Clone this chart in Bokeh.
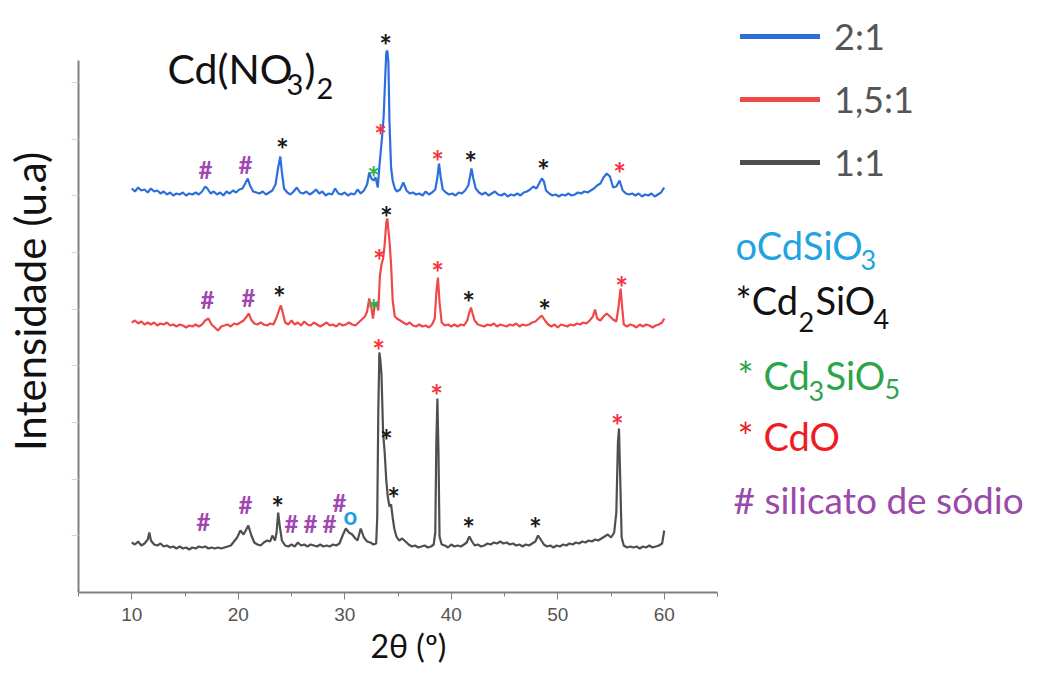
import math
from bokeh.plotting import figure
from bokeh.models import ColumnDataSource, Label, Legend, LegendItem, FixedTicker, Range1d, Title
from bokeh.core.properties import value
from bokeh.embed import file_html
from bokeh.resources import INLINE

# ---------------- data (2theta in degrees, intensity in a.u. incl. vertical stacking) ----------------
series_labels = ["2:1", "1,5:1", "1:1"]

pts_2_1 = [(10.0,404),(10.3,401),(10.6,405),(10.9,402),(11.2,403),(11.5,400),(11.8,404),(12.1,401),(12.4,402),(12.7,399),
    (13.0,401),(13.3,398),(13.6,400),(13.9,397),(14.2,399),(14.5,398),(14.8,400),(15.1,397),(15.4,399),(15.7,398),
    (16.0,400),(16.3,398),(16.6,401),(16.9,406),(17.1,404),(17.4,399),(17.7,401),(18.0,398),(18.3,400),(18.6,397),
    (18.9,401),(19.2,399),(19.5,402),(19.8,400),(20.1,403),(20.4,404),(20.7,410),(20.9,414),(21.1,407),(21.4,401),
    (21.7,400),(22.0,399),(22.3,401),(22.6,398),(22.9,400),(23.2,402),(23.5,408),(23.75,425),(23.95,436),(24.1,420),
    (24.3,404),(24.6,400),(24.9,398),(25.2,401),(25.5,405),(25.8,400),(26.1,399),(26.4,401),(26.7,398),(27.0,400),
    (27.3,403),(27.6,399),(27.9,401),(28.2,397),(28.5,399),(28.8,398),(29.1,404),(29.4,399),(29.7,398),(30.0,400),
    (30.3,397),(30.6,399),(30.9,398),(31.2,403),(31.5,399),(31.8,402),(32.1,408),(32.3,420),(32.5,414),(32.7,412),
    (32.9,415),(33.1,405),(33.3,432),(33.5,455),(33.65,475),(33.8,515),(33.9,540),(34.0,542),(34.1,530),(34.2,470),
    (34.35,425),(34.5,412),(34.7,404),(34.9,401),(35.2,403),(35.5,410),(35.8,402),(36.1,399),(36.4,400),(36.7,398),
    (37.0,399),(37.3,397),(37.6,401),(37.9,398),(38.2,400),(38.5,403),(38.7,415),(38.85,429),(39.0,416),(39.2,403),
    (39.5,400),(39.8,398),(40.1,399),(40.4,397),(40.7,400),(41.0,399),(41.3,402),(41.6,407),(41.8,418),(41.9,424),
    (42.05,415),(42.3,404),(42.6,400),(42.9,398),(43.2,400),(43.5,397),(43.8,399),(44.1,401),(44.4,398),(44.7,397),
    (45.0,399),(45.3,396),(45.6,398),(45.9,397),(46.2,399),(46.5,397),(46.8,400),(47.1,401),(47.4,403),(47.7,406),
    (48.0,404),(48.3,410),(48.5,414),(48.7,411),(48.9,402),(49.2,399),(49.5,397),(49.8,398),(50.1,396),(50.4,398),
    (50.7,397),(51.0,399),(51.3,397),(51.6,398),(51.9,400),(52.2,399),(52.5,401),(52.8,400),(53.1,402),(53.4,404),
    (53.7,407),(54.0,409),(54.3,415),(54.6,419),(54.9,416),(55.2,405),(55.5,406),(55.8,412),(56.1,402),(56.4,399),
    (56.7,398),(57.0,399),(57.3,397),(57.6,399),(57.9,396),(58.2,398),(58.5,397),(58.8,399),(59.1,396),(59.4,398),
    (59.7,400),(60.0,405)]

pts_1_5_1 = [(10.0,270),(10.3,272),(10.6,269),(10.9,271),(11.2,268),(11.5,270),(11.8,268),(12.1,270),(12.4,267),(12.7,269),
    (13.0,268),(13.3,270),(13.6,267),(13.9,268),(14.2,266),(14.5,268),(14.8,267),(15.1,265),(15.4,267),(15.7,266),
    (16.0,268),(16.3,266),(16.6,268),(16.9,272),(17.2,274),(17.5,268),(17.8,265),(18.1,262),(18.4,266),(18.7,267),
    (19.0,268),(19.3,266),(19.6,269),(19.9,268),(20.2,270),(20.5,272),(20.8,276),(21.0,279),(21.2,273),(21.5,269),
    (21.8,268),(22.1,270),(22.4,268),(22.7,267),(23.0,269),(23.3,268),(23.6,275),(23.85,283),(24.0,287),(24.2,279),
    (24.4,270),(24.7,268),(25.0,272),(25.3,268),(25.6,270),(25.9,267),(26.2,271),(26.5,268),(26.8,267),(27.1,270),
    (27.4,268),(27.7,266),(28.0,268),(28.3,270),(28.6,267),(28.9,268),(29.2,266),(29.5,269),(29.8,267),(30.1,268),
    (30.4,270),(30.7,268),(31.0,267),(31.3,270),(31.6,273),(31.9,276),(32.1,281),(32.3,294),(32.5,285),(32.65,274),
    (32.85,290),(33.0,288),(33.15,282),(33.3,316),(33.45,328),(33.6,334),(33.75,348),(33.9,370),(34.0,374),(34.1,362),
    (34.2,352),(34.35,328),(34.5,292),(34.7,276),(34.9,274),(35.2,272),(35.5,270),(35.8,268),(36.1,270),(36.4,267),
    (36.7,266),(37.0,268),(37.3,266),(37.6,267),(37.9,265),(38.2,268),(38.45,274),(38.6,300),(38.75,315),(38.9,290),
    (39.1,270),(39.4,267),(39.7,268),(40.0,266),(40.3,268),(40.6,266),(40.9,268),(41.2,267),(41.5,272),(41.7,280),
    (41.85,285),(42.0,279),(42.2,272),(42.5,268),(42.8,267),(43.1,266),(43.4,268),(43.7,267),(44.0,269),(44.3,266),
    (44.6,268),(44.9,267),(45.2,266),(45.5,268),(45.8,267),(46.1,269),(46.4,266),(46.7,268),(47.0,267),(47.3,268),
    (47.6,270),(47.9,271),(48.2,274),(48.5,277),(48.8,272),(49.1,268),(49.4,266),(49.7,268),(50.0,265),(50.3,268),
    (50.6,267),(50.9,266),(51.2,268),(51.5,267),(51.8,269),(52.1,268),(52.4,270),(52.7,269),(53.0,272),(53.3,276),
    (53.5,283),(53.7,274),(54.0,272),(54.3,276),(54.6,279),(54.9,276),(55.2,273),(55.5,271),(55.7,285),(55.9,304),
    (56.05,285),(56.2,268),(56.5,266),(56.8,268),(57.1,267),(57.4,265),(57.7,268),(58.0,266),(58.3,268),(58.6,267),
    (58.9,265),(59.2,267),(59.5,268),(59.8,270),(60.0,274)]

pts_1_1 = [(10.0,50),(10.3,48),(10.6,51),(10.9,47),(11.2,49),(11.5,53),(11.65,60),(11.8,52),(12.1,48),(12.4,47),
    (12.7,49),(13.0,46),(13.3,47),(13.6,45),(13.9,46),(14.2,44),(14.5,46),(14.8,44),(15.1,45),(15.4,43),
    (15.7,45),(16.0,44),(16.3,46),(16.6,45),(16.9,46),(17.2,44),(17.5,45),(17.8,44),(18.1,45),(18.4,44),
    (18.7,45),(19.0,46),(19.3,47),(19.6,51),(19.9,55),(20.2,62),(20.5,58),(20.75,63),(20.95,67),(21.2,58),
    (21.5,50),(21.8,48),(22.1,47),(22.4,50),(22.7,52),(23.0,51),(23.2,57),(23.45,52),(23.6,60),(23.75,80),
    (23.9,66),(24.1,52),(24.4,47),(24.7,46),(25.0,48),(25.3,46),(25.6,50),(25.9,47),(26.2,48),(26.5,46),
    (26.8,48),(27.1,47),(27.4,46),(27.7,48),(28.0,46),(28.3,47),(28.6,46),(28.9,48),(29.2,47),(29.5,49),
    (29.8,57),(30.1,64),(30.4,60),(30.7,58),(31.0,54),(31.2,52),(31.5,64),(31.8,55),(32.1,51),(32.4,50),
    (32.7,48),(32.95,49),(33.05,75),(33.15,180),(33.25,240),(33.35,232),(33.45,218),(33.6,160),(33.75,140),(33.9,112),
    (34.05,95),(34.2,86),(34.35,88),(34.5,75),(34.65,64),(34.85,56),(35.1,52),(35.4,54),(35.7,51),(36.0,48),
    (36.3,46),(36.6,47),(36.9,45),(37.2,46),(37.5,47),(37.8,45),(38.1,46),(38.35,48),(38.5,60),(38.6,150),
    (38.7,194),(38.8,140),(38.9,56),(39.1,48),(39.4,47),(39.7,45),(40.0,48),(40.3,46),(40.6,47),(40.9,46),
    (41.2,48),(41.45,50),(41.7,56),(41.95,51),(42.2,47),(42.5,48),(42.8,46),(43.1,47),(43.4,49),(43.7,48),
    (44.0,50),(44.3,49),(44.6,51),(44.9,49),(45.2,50),(45.5,48),(45.8,49),(46.1,47),(46.4,48),(46.7,46),
    (47.0,48),(47.3,47),(47.6,49),(47.9,51),(48.15,57),(48.4,53),(48.7,48),(49.0,46),(49.3,47),(49.6,45),
    (49.9,47),(50.2,46),(50.5,48),(50.8,47),(51.1,49),(51.4,48),(51.7,50),(52.0,49),(52.3,51),(52.6,50),
    (52.9,52),(53.2,51),(53.5,53),(53.8,52),(54.1,54),(54.4,56),(54.7,58),(55.0,55),(55.3,60),(55.5,80),
    (55.65,150),(55.75,164),(55.85,120),(56.0,55),(56.2,47),(56.5,45),(56.8,46),(57.1,45),(57.4,46),(57.7,44),
    (58.0,46),(58.3,45),(58.6,47),(58.9,45),(59.2,46),(59.5,47),(59.8,49),(60.0,62)]

# phase markers: 2theta, intensity, phase
mark_theta = [16.92, 20.68, 24.15, 32.70, 33.36, 33.83, 38.71, 41.81, 48.66, 55.80,
              17.11, 20.96, 23.87, 32.70, 33.26, 33.92, 38.71, 41.62, 48.76, 55.99,
              16.74, 20.68, 23.69, 25.00, 26.78, 28.57, 29.51, 30.54, 33.17, 33.92, 34.58, 38.62, 41.62, 47.91, 55.61]
mark_int = [422, 427, 450, 422, 464, 554, 438, 437, 429, 426,
            292, 294, 302, 289, 339, 382, 327, 297, 289, 312,
            70, 87, 92, 68, 68, 68, 89, 75, 249, 159, 101, 204, 71, 71, 174]
mark_phase = ["Na", "Na", "Cd2SiO4", "Cd3SiO5", "CdO", "Cd2SiO4", "CdO", "Cd2SiO4", "Cd2SiO4", "CdO",
              "Na", "Na", "Cd2SiO4", "Cd3SiO5", "CdO", "Cd2SiO4", "CdO", "Cd2SiO4", "Cd2SiO4", "CdO",
              "Na", "Na", "Cd2SiO4", "Na", "Na", "Na", "Na", "CdSiO3", "CdO", "Cd2SiO4", "Cd2SiO4", "CdO",
              "Cd2SiO4", "Cd2SiO4", "CdO"]

# ---------------- styles ----------------
line_colors = ["#2c6fdc", "#f04848", "#4f4f4f"]
phase_symbol = {"Na": "#", "Cd2SiO4": "*", "Cd3SiO5": "*", "CdO": "*", "CdSiO3": "o"}
phase_color = {"Na": "#a048b0", "Cd2SiO4": "#1a1a1a", "Cd3SiO5": "#2fb050", "CdO": "#f5333f", "CdSiO3": "#1aa0e0"}
sym_size = {"#": "24px", "*": "30px", "o": "24px"}
sym_off = {"#": -1, "*": 6, "o": -2}
FONT = "Lato"

W, H = 1044, 669
LEFT, TOP, BOTTOM, RIGHT = 78, 10, 77, 0
PX_PER_DEG = 10.65
x_end = 5 + (W - LEFT - RIGHT) / PX_PER_DEG
y_end = H - BOTTOM - TOP

p = figure(width=W, height=H, x_range=Range1d(5, x_end), y_range=Range1d(0, y_end),
           output_backend="svg", toolbar_location=None,
           min_border_left=LEFT, min_border_right=RIGHT, min_border_top=TOP, min_border_bottom=BOTTOM)
p.outline_line_color = None
p.xgrid.visible = False
p.ygrid.visible = False
p.background_fill_color = "white"
p.border_fill_color = "white"

# axes
p.xaxis.ticker = FixedTicker(ticks=[10, 20, 30, 40, 50, 60], minor_ticks=[5, 15, 25, 35, 45, 55, 65])
p.xaxis.bounds = (5, 65)
p.xaxis.axis_line_color = "#808080"
p.xaxis.axis_line_width = 2
p.xaxis.major_tick_line_color = "#808080"
p.xaxis.minor_tick_line_color = "#808080"
p.xaxis.major_tick_out = 7
p.xaxis.major_tick_in = 0
p.xaxis.minor_tick_out = 4
p.xaxis.minor_tick_in = 0
p.xaxis.major_label_text_font = "Liberation Sans"
p.xaxis.major_label_text_font_size = "19px"
p.xaxis.major_label_text_color = "#555555"
p.xaxis.major_label_standoff = 8

p.yaxis.ticker = FixedTicker(ticks=[], minor_ticks=[56.7, 113.3, 170, 226.7, 283.3, 340, 396.7, 453.3, 510])
p.yaxis.bounds = (0, 532)
p.yaxis.axis_line_color = "#808080"
p.yaxis.axis_line_width = 2
p.yaxis.minor_tick_line_color = "#d4d4d4"
p.yaxis.minor_tick_out = 7
p.yaxis.minor_tick_in = 0
p.yaxis.axis_label = "Intensidade (u.a)"
p.yaxis.axis_label_text_font = FONT
p.yaxis.axis_label_text_font_size = "42px"
p.yaxis.axis_label_text_font_style = "normal"
p.yaxis.axis_label_text_color = "#111111"
p.yaxis.axis_label_standoff = 17

# x axis title below the axis, starting near 2theta = 32.5
xt = Title(text="2θ (º)", align="left", offset=292, text_font=FONT, text_font_size="32px",
           text_font_style="normal", text_color="#111111", standoff=0)
p.add_layout(xt, "below")

# curves
curves = []
for pts, col in zip([pts_2_1, pts_1_5_1, pts_1_1], line_colors):
    xs = [a for a, b in pts]
    ys = [b for a, b in pts]
    p.line(xs, ys, line_color=col, line_width=2.2)
    # hidden twin with a thicker stroke, used only for the legend swatch
    curves.append(p.line(xs, ys, line_color=col, line_width=5, line_cap="round", visible=False))

legend = Legend(items=[LegendItem(label=l, renderers=[r]) for l, r in zip(series_labels, curves)],
                location=(662, 408), orientation="vertical")
legend.label_text_font = FONT
legend.label_text_font_size = "36px"
legend.label_text_color = "#555555"
legend.glyph_width = 80
legend.glyph_height = 42
legend.label_height = 42
legend.spacing = 19
legend.label_standoff = 14
legend.padding = 0
legend.margin = 0
legend.border_line_color = None
legend.background_fill_alpha = 0
legend.inactive_fill_alpha = 0
legend.click_policy = "none"
p.add_layout(legend)

# phase markers
src = ColumnDataSource(dict(
    x=mark_theta, y=mark_int,
    t=[phase_symbol[k] for k in mark_phase],
    c=[phase_color[k] for k in mark_phase],
    s=[sym_size[phase_symbol[k]] for k in mark_phase],
    o=[sym_off[phase_symbol[k]] for k in mark_phase],
))
p.text(x="x", y="y", text="t", text_color="c", text_font_size="s", y_offset="o",
       text_font=value(FONT), text_font_style="bold", text_align="center",
       text_baseline="alphabetic", source=src)

# ---------------- free text (pixel placement converted to data units) ----------------
def dx(xp):
    return 5 + (xp - LEFT) / PX_PER_DEG

def dy(yp):
    return (H - BOTTOM) - yp

def lab(text, xp, yp, size, color):
    # yp: wanted baseline (px from top); renderer draws about 0.43 em lower
    p.add_layout(Label(x=dx(xp), y=dy(yp - 0.43 * size), text=text, text_font=FONT,
                       text_font_size=f"{size}px", text_color=color,
                       text_align="left", text_baseline="alphabetic"))

# title Cd(NO3)2
lab("Cd(NO", 167, 86, 41, "#111111")
lab("3", 286, 96, 29, "#111111")
lab(")", 304, 86, 41, "#111111")
lab("2", 316, 100, 29, "#111111")

# phase key
cyan, blk, grn, red, pur = "#1fa3e3", "#111111", "#2ca54a", "#ee1c24", "#9a4aa8"
lab("oCdSiO", 735, 261, 38, cyan)
lab("3", 860, 271, 27, cyan)
lab("*Cd", 735, 316, 38, blk)
lab("2", 798, 333, 27, blk)
lab("SiO", 815, 316, 38, blk)
lab("4", 873, 330, 27, blk)
lab("* Cd", 737, 391, 38, grn)
lab("3", 808, 402, 27, grn)
lab("SiO", 825, 391, 38, grn)
lab("5", 884, 400, 27, grn)
lab("* CdO", 737, 452, 38, red)
lab("# silicato de sódio", 733, 515, 37, pur)

open("out.html", "w").write(file_html(p, INLINE))
